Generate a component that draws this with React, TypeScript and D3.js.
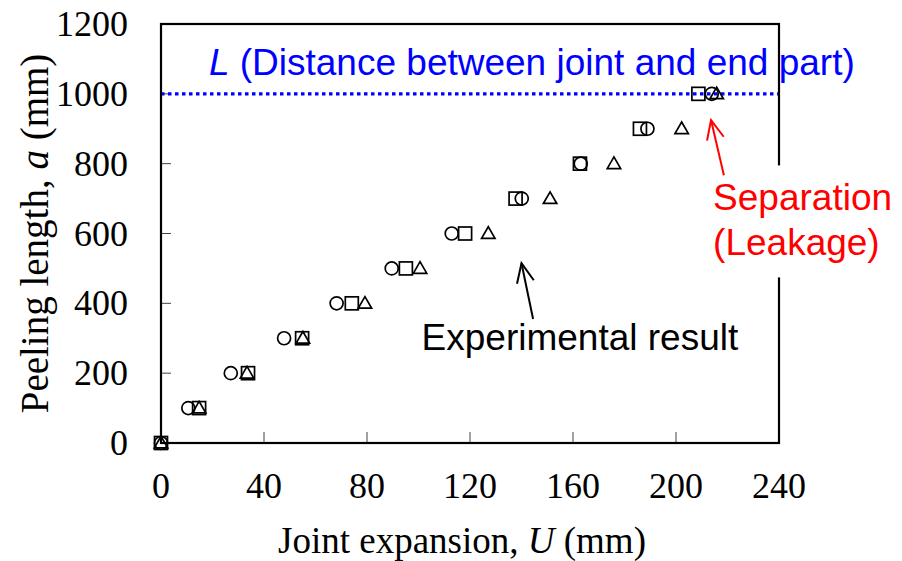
import React from "react";
import * as d3 from "d3";

// peeling length (mm) for each measured step
const peelLength = [0, 100, 200, 300, 400, 500, 600, 700, 800, 900, 1000];
// joint expansion U (mm), one list per specimen (marker)
const circleU = [0, 10.6, 27.1, 47.8, 68.2, 89.6, 112.9, 140.1, 163, 188.9, 213.9];
const squareU = [0, 14.8, 33.8, 54.8, 74.1, 95.1, 118.1, 137.7, 162.7, 186, 208.7];
const triangleU = [0, 14.8, 33.4, 55.1, 79.2, 100.6, 127.1, 151.1, 175.9, 202.2, 215.8];

const xTicks = [0, 40, 80, 120, 160, 200, 240];
const yTicks = [0, 200, 400, 600, 800, 1000, 1200];
const distanceL = 1000;

const W = 902;
const H = 561;
const margin = { top: 24, right: 123, bottom: 118, left: 161 };

const serif = "'Liberation Serif', 'Times New Roman', serif";
const sans = "'Liberation Sans', Arial, sans-serif";

const x = d3.scaleLinear().domain([0, 240]).range([margin.left, W - margin.right]);
const y = d3.scaleLinear().domain([0, 1200]).range([H - margin.bottom, margin.top]);

// open-V arrow from tail to head (data coords)
const Arrow = ({ from, to, color }: { from: number[]; to: number[]; color: string }) => {
  const x1 = x(from[0]), y1 = y(from[1]);
  const x2 = x(to[0]), y2 = y(to[1]);
  const ang = Math.atan2(y1 - y2, x1 - x2);
  const len = 21;
  const spread = 0.42;
  const a = [x2 + len * Math.cos(ang - spread), y2 + len * Math.sin(ang - spread)];
  const b = [x2 + len * Math.cos(ang + spread), y2 + len * Math.sin(ang + spread)];
  return (
    <g stroke={color} strokeWidth={2} fill="none">
      <line x1={x1} y1={y1} x2={x2} y2={y2} />
      <polyline points={`${a[0]},${a[1]} ${x2},${y2} ${b[0]},${b[1]}`} />
    </g>
  );
};

const App = () => {
  const r = 6.5;
  const tri = d3.symbol().type(d3.symbolTriangle).size(78)();

  return (
    <svg
      width={W}
      height={H}
      style={{ position: "absolute", left: 0, top: 0, background: "#fff" }}
    >
      {/* ticks (inside) */}
      {xTicks.slice(1, -1).map((t) => (
        <line key={"xt" + t} x1={x(t)} x2={x(t)} y1={y(0)} y2={y(0) - 11} stroke="#444" strokeWidth={1} />
      ))}
      {yTicks.slice(1, -1).map((t) => (
        <line key={"yt" + t} x1={x(0)} x2={x(0) + 10} y1={y(t)} y2={y(t)} stroke="#444" strokeWidth={1} />
      ))}

      {/* L line */}
      <line
        x1={x(0)}
        x2={x(240)}
        y1={y(distanceL)}
        y2={y(distanceL)}
        stroke="#0000ff"
        strokeWidth={3.2}
        strokeDasharray="3.5,3.5"
      />

      {/* frame */}
      <rect
        x={x(0)}
        y={y(1200)}
        width={x(240) - x(0)}
        height={y(0) - y(1200)}
        fill="none"
        stroke="#000"
        strokeWidth={2.2}
      />

      {/* data */}
      <g fill="none" stroke="#000" strokeWidth={1.7}>
        {circleU.map((u, i) => (
          <circle key={"c" + i} cx={x(u)} cy={y(peelLength[i])} r={r} />
        ))}
        {squareU.map((u, i) => (
          <rect key={"s" + i} x={x(u) - r} y={y(peelLength[i]) - r} width={2 * r} height={2 * r} />
        ))}
        {triangleU.map((u, i) => (
          <path key={"t" + i} d={tri || ""} transform={`translate(${x(u)},${y(peelLength[i]) + 1})`} />
        ))}
      </g>

      {/* tick labels */}
      <g fontFamily={serif} fontSize={36} fill="#000">
        {xTicks.map((t) => (
          <text key={"xl" + t} x={x(t)} y={y(0) + 55} textAnchor="middle">
            {t}
          </text>
        ))}
        {yTicks.map((t) => (
          <text key={"yl" + t} x={x(0) - 33} y={y(t) + 12} textAnchor="end">
            {t}
          </text>
        ))}
      </g>

      {/* axis titles */}
      <text x={462} y={y(0) + 110} fontFamily={serif} fontSize={37} textAnchor="middle">
        Joint expansion, <tspan fontStyle="italic">U</tspan> (mm)
      </text>
      <text
        transform={`translate(48,${(y(0) + y(1200)) / 2}) rotate(-90)`}
        fontFamily={serif}
        fontSize={39}
        textAnchor="middle"
      >
        Peeling length, <tspan fontStyle="italic">a</tspan> (mm)
      </text>

      {/* annotations */}
      <text x={x(18.6)} y={y(1054)} fontFamily={sans} fontSize={37} fill="#0000ff">
        <tspan fontStyle="italic">L</tspan> (Distance between joint and end part)
      </text>

      <Arrow from={[144.5, 355]} to={[140, 515]} color="#000" />
      <text x={x(101.2)} y={y(266)} fontFamily={sans} fontSize={37} fill="#000">
        Experimental result
      </text>

      <rect x={x(213)} y={y(795)} width={190} height={112} fill="#fff" />
      <Arrow from={[218.6, 767]} to={[213.6, 925]} color="#ff0000" />
      <g fontFamily={sans} fontSize={37} fill="#ff0000">
        <text x={x(214.4)} y={y(667)}>Separation</text>
        <text x={x(214.4)} y={y(538)}>(Leakage)</text>
      </g>
    </svg>
  );
};

export default App;
